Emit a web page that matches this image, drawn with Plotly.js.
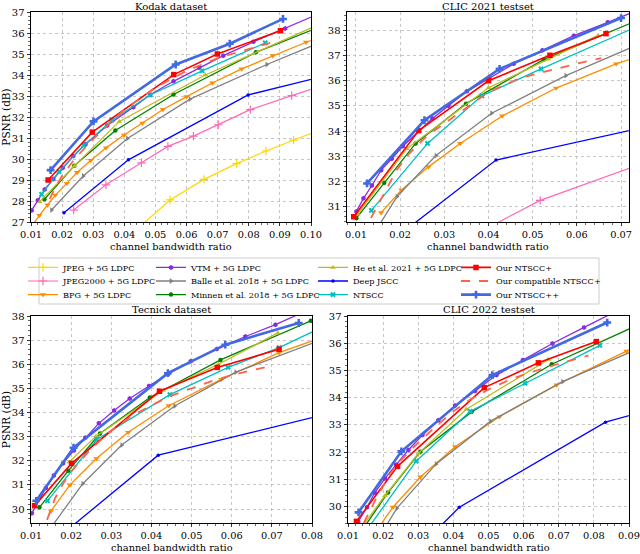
<!DOCTYPE html>
<html><head><meta charset="utf-8">
<script src="https://cdn.plot.ly/plotly-3.0.1.min.js"></script>
<style>html,body{margin:0;padding:0;background:#fff}#chart{width:640px;height:554px}</style>
</head><body><div id="chart"></div><script>
// ---------- series names (legend order, column-major) ----------
const SERIES_KEYS  = ['jpeg','j2k','bpg','vtm','balle','minnen','he','djscc','ntscc','plus','compat','pp'];
const SERIES_NAMES = ['JPEG + 5G LDPC','JPEG2000 + 5G LDPC','BPG + 5G LDPC','VTM + 5G LDPC','Balle et al. 2018 + 5G LDPC','Minnen et al. 2018 + 5G LDPC','He et al. 2021 + 5G LDPC','Deep JSCC','NTSCC','Our NTSCC+','Our compatible NTSCC+','Our NTSCC++'];
const PANEL_TITLES = ['Kodak dataset','CLIC 2021 testset','Tecnick dataset','CLIC 2022 testset'];
const X_TITLE = 'channel bandwidth ratio';
const Y_TITLE = 'PSNR (dB)';

// ---------- Kodak ----------
const kdJpegX = [0.0440,0.0547,0.0656,0.0761,0.0855,0.0944,0.1035];
const kdJpegY = [26.65,28.05,29.03,29.78,30.38,30.90,31.42];
const kdJ2kX = [0.0237,0.0341,0.0455,0.0540,0.0622,0.0702,0.0805,0.0938,0.1035];
const kdJ2kY = [27.57,28.77,29.82,30.60,31.09,31.63,32.35,33.02,33.48];
const kdBpgX = [0.0105,0.0127,0.0153,0.0178,0.0215,0.0248,0.0292,0.0341,0.0399,0.0458,0.0524,0.0600,0.0683,0.0777,0.0877,0.0984,0.1035];
const kdBpgY = [26.85,27.32,27.81,28.28,28.84,29.36,29.93,30.53,31.14,31.71,32.36,32.97,33.62,34.29,34.92,35.56,35.80];
const kdVtmX = [0.0102,0.0122,0.0144,0.0172,0.0202,0.0236,0.0275,0.0345,0.0429,0.0483,0.0558,0.0641,0.0718,0.0815,0.0917,0.1035];
const kdVtmY = [27.55,28.03,28.55,29.05,29.58,30.14,30.70,31.60,32.47,33.06,33.70,34.35,34.92,35.58,36.22,36.98];
const kdBalleX = [0.0166,0.0268,0.0410,0.0611,0.0858,0.1035];
const kdBalleY = [27.57,29.19,30.98,32.85,34.50,35.58];
const kdMinnenX = [0.0143,0.0239,0.0371,0.0558,0.0823,0.1035];
const kdMinnenY = [28.08,29.68,31.36,33.07,35.08,36.33];
const kdHeX = [0.0128,0.0239,0.0384,0.0660,0.1035];
const kdHeY = [27.97,29.66,31.79,34.00,36.47];
const kdDjsccX = [0.0206,0.0413,0.0798,0.1035];
const kdDjsccY = [27.44,29.96,33.05,33.92];
const kdNtsccX = [0.0134,0.0190,0.0270,0.0360,0.0483,0.0650,0.0853];
const kdNtsccY = [28.32,29.40,30.65,31.85,33.05,34.20,35.53];
const kdPlusX = [0.0155,0.0297,0.0559,0.0699,0.0902];
const kdPlusY = [29.00,31.28,34.02,35.00,36.11];
const kdCompatX = [0.0160,0.0180,0.0200,0.0240,0.0300,0.0400,0.0500,0.0600,0.0700,0.0800,0.0880];
const kdCompatY = [28.10,28.70,29.20,30.00,30.95,32.35,33.40,34.20,34.80,35.25,35.58];
const kdPpX = [0.0163,0.0301,0.0565,0.0739,0.0910];
const kdPpY = [29.47,31.79,34.50,35.49,36.67];

// ---------- CLIC 2021 ----------
const c21J2kX = [0.0395,0.0517,0.0750];
const c21J2kY = [30.13,31.25,32.72];
const c21BpgX = [0.0157,0.0203,0.0264,0.0336,0.0431,0.0553,0.0689,0.0740];
const c21BpgY = [30.76,31.66,32.58,33.51,34.60,35.71,36.67,36.97];
const c21VtmX = [0.0101,0.0117,0.0136,0.0157,0.0181,0.0206,0.0273,0.0309,0.0351,0.0402,0.0457,0.0522,0.0593,0.0670,0.0750];
const c21VtmY = [30.81,31.33,31.84,32.45,32.90,33.40,34.50,35.01,35.58,36.10,36.67,37.21,37.79,38.32,38.89];
const c21BalleX = [0.0148,0.0193,0.0281,0.0407,0.0575,0.0740];
const c21BalleY = [30.14,31.40,33.03,34.71,36.20,37.45];
const c21MinnenX = [0.0101,0.0164,0.0235,0.0349,0.0525,0.0740];
const c21MinnenY = [30.54,31.95,33.51,35.09,36.84,38.42];
const c21HeX = [0.0104,0.0215,0.0400,0.0535,0.0648];
const c21HeY = [30.70,33.30,35.72,36.85,37.80];
const c21DjsccX = [0.0206,0.0417,0.0798];
const c21DjsccY = [29.98,32.85,34.33];
const c21NtsccX = [0.0135,0.0262,0.0385,0.0519,0.0740];
const c21NtsccY = [30.85,33.51,35.40,36.47,38.18];
const c21PlusX = [0.0095,0.0242,0.0400,0.0539,0.0666];
const c21PlusY = [30.60,34.02,36.00,37.01,37.87];
const c21CompatX = [0.0134,0.0160,0.0192,0.0220,0.0260,0.0320,0.0400,0.0470,0.0540,0.0600,0.0655];
const c21CompatY = [30.55,31.40,32.45,33.10,33.80,34.55,35.55,36.10,36.42,36.68,36.90];
const c21PpX = [0.0125,0.0255,0.0425,0.0700];
const c21PpY = [31.92,34.43,36.47,38.49];

// ---------- Tecnick ----------
const tnBpgX = [0.0150,0.0197,0.0263,0.0342,0.0443,0.0574,0.0718,0.0820];
const tnBpgY = [29.92,31.00,32.09,33.18,34.28,35.37,36.48,37.08];
const tnVtmX = [0.0102,0.0137,0.0157,0.0180,0.0207,0.0235,0.0269,0.0307,0.0346,0.0394,0.0442,0.0498,0.0563,0.0634,0.0709,0.0790];
const tnVtmY = [29.82,30.87,31.39,31.90,32.43,32.95,33.55,34.08,34.58,35.10,35.60,36.12,36.63,37.15,37.64,38.25];
const tnBalleX = [0.0145,0.0229,0.0326,0.0458,0.0610,0.0820];
const tnBalleY = [29.12,31.05,32.65,34.27,35.67,36.99];
const tnMinnenX = [0.0121,0.0193,0.0272,0.0396,0.0572,0.0797];
const tnMinnenY = [30.07,31.59,33.13,34.62,36.18,37.80];
const tnHeX = [0.0195,0.0262,0.0430,0.0567,0.0715];
const tnHeY = [31.95,33.02,34.92,36.00,37.30];
const tnDjsccX = [0.0206,0.0417,0.0825];
const tnDjsccY = [29.34,32.23,33.89];
const tnNtsccX = [0.0141,0.0264,0.0446,0.0591,0.0718,0.0820];
const tnNtsccY = [30.34,32.88,34.74,35.87,36.69,37.49];
const tnPlusX = [0.0109,0.0201,0.0420,0.0564,0.0718];
const tnPlusY = [30.14,31.89,34.88,35.87,36.62];
const tnCompatX = [0.0140,0.0160,0.0180,0.0200,0.0250,0.0300,0.0350,0.0400,0.0450,0.0500,0.0550,0.0600,0.0650,0.0690];
const tnCompatY = [29.55,30.45,31.05,31.55,32.50,33.25,33.85,34.30,34.70,35.00,35.30,35.55,35.75,35.90];
const tnPpX = [0.0113,0.0206,0.0441,0.0584,0.0767];
const tnPpY = [30.34,32.54,35.63,36.81,37.71];

// ---------- CLIC 2022 ----------
const c22BpgX = [0.0188,0.0228,0.0306,0.0405,0.0531,0.0694,0.0893,0.0925];
const c22BpgY = [29.25,29.98,31.09,32.20,33.30,34.47,35.71,35.91];
const c22VtmX = [0.0129,0.0154,0.0176,0.0205,0.0237,0.0272,0.0312,0.0357,0.0405,0.0462,0.0523,0.0598,0.0682,0.0772,0.0860];
const c22VtmY = [29.45,29.98,30.51,31.03,31.54,32.08,32.63,33.17,33.71,34.25,34.83,35.38,35.99,36.58,37.15];
const c22BalleX = [0.0205,0.0239,0.0351,0.0506,0.0711,0.0925];
const c22BalleY = [29.22,29.94,31.57,33.14,34.59,35.79];
const c22MinnenX = [0.0148,0.0214,0.0306,0.0452,0.0680,0.0935];
const c22MinnenY = [29.28,30.52,32.02,33.48,35.23,36.73];
const c22HeX = [0.0148,0.0205,0.0300,0.0437,0.0670];
const c22HeY = [29.40,30.40,31.95,33.58,35.40];
const c22DjsccX = [0.0355,0.0417,0.0833,0.0925];
const c22DjsccY = [29.18,29.98,33.10,33.43];
const c22NtsccX = [0.0155,0.0294,0.0448,0.0604,0.0817];
const c22NtsccY = [29.17,31.67,33.50,34.53,35.92];
const c22PlusX = [0.0124,0.0241,0.0488,0.0642,0.0807];
const c22PlusY = [29.46,31.48,34.37,35.28,36.06];
const c22CompatX = [0.0145,0.0180,0.0220,0.0250,0.0300,0.0350,0.0400,0.0450,0.0500,0.0550,0.0600,0.0650,0.0700,0.0750,0.0785];
const c22CompatY = [29.40,30.30,31.20,31.70,32.35,32.95,33.50,33.95,34.30,34.60,34.85,35.05,35.25,35.42,35.55];
const c22PpX = [0.0130,0.0252,0.0511,0.0838];
const c22PpY = [29.79,32.03,34.83,36.76];

// ---------- styles ----------
const FONT = 'DejaVu Serif, serif';
const STYLE = {
  jpeg:  {color:'#FFD700', symbol:'cross-thin-open', size:6, width:1.2, legend:'legend'},
  j2k:   {color:'#FF69B4', symbol:'cross-thin-open', size:6, width:1.2, legend:'legend'},
  bpg:   {color:'#FF8C00', symbol:'triangle-down', size:5.5, width:1.3, legend:'legend'},
  vtm:   {color:'#8A2BE2', symbol:'hexagon', size:5, width:1.3, legend:'legend2'},
  balle: {color:'#808080', symbol:'triangle-right', size:5, width:1.3, legend:'legend2'},
  minnen:{color:'#008000', symbol:'circle', size:4.5, width:1.3, legend:'legend2'},
  he:    {color:'#BCBD22', symbol:'triangle-up', size:5, width:1.3, legend:'legend3'},
  djscc: {color:'#0000FF', symbol:'circle', size:3.5, width:1.3, legend:'legend3'},
  ntscc: {color:'#00BFBF', symbol:'x', size:5, width:1.3, legend:'legend3'},
  plus:  {color:'#FF0000', symbol:'square', size:5.5, width:1.6, legend:'legend4'},
  compat:{color:'#FF6347', symbol:null, width:1.8, dash:'dash', legend:'legend4'},
  pp:    {color:'#4169E1', symbol:'cross', size:6.5, width:2.6, legend:'legend4'}
};

const PANELS = [
  {xa:'x',  ya:'y',  legend:true, data:{jpeg:[kdJpegX,kdJpegY], j2k:[kdJ2kX,kdJ2kY], bpg:[kdBpgX,kdBpgY], vtm:[kdVtmX,kdVtmY], balle:[kdBalleX,kdBalleY], minnen:[kdMinnenX,kdMinnenY], he:[kdHeX,kdHeY], djscc:[kdDjsccX,kdDjsccY], ntscc:[kdNtsccX,kdNtsccY], plus:[kdPlusX,kdPlusY], compat:[kdCompatX,kdCompatY], pp:[kdPpX,kdPpY]}},
  {xa:'x2', ya:'y2', legend:false, data:{j2k:[c21J2kX,c21J2kY], bpg:[c21BpgX,c21BpgY], vtm:[c21VtmX,c21VtmY], balle:[c21BalleX,c21BalleY], minnen:[c21MinnenX,c21MinnenY], he:[c21HeX,c21HeY], djscc:[c21DjsccX,c21DjsccY], ntscc:[c21NtsccX,c21NtsccY], plus:[c21PlusX,c21PlusY], compat:[c21CompatX,c21CompatY], pp:[c21PpX,c21PpY]}},
  {xa:'x3', ya:'y3', legend:false, data:{bpg:[tnBpgX,tnBpgY], vtm:[tnVtmX,tnVtmY], balle:[tnBalleX,tnBalleY], minnen:[tnMinnenX,tnMinnenY], he:[tnHeX,tnHeY], djscc:[tnDjsccX,tnDjsccY], ntscc:[tnNtsccX,tnNtsccY], plus:[tnPlusX,tnPlusY], compat:[tnCompatX,tnCompatY], pp:[tnPpX,tnPpY]}},
  {xa:'x4', ya:'y4', legend:false, data:{bpg:[c22BpgX,c22BpgY], vtm:[c22VtmX,c22VtmY], balle:[c22BalleX,c22BalleY], minnen:[c22MinnenX,c22MinnenY], he:[c22HeX,c22HeY], djscc:[c22DjsccX,c22DjsccY], ntscc:[c22NtsccX,c22NtsccY], plus:[c22PlusX,c22PlusY], compat:[c22CompatX,c22CompatY], pp:[c22PpX,c22PpY]}}
];

const traces = [];
PANELS.forEach(p => {
  SERIES_KEYS.forEach((k, i) => {
    const d = p.data[k];
    if (!d) return;
    const s = STYLE[k];
    const t = {
      type:'scatter', x:d[0], y:d[1], xaxis:p.xa, yaxis:p.ya,
      name:SERIES_NAMES[i], legend:s.legend, showlegend:p.legend,
      mode: s.symbol ? 'lines+markers' : 'lines',
      line:{color:s.color, width:s.width, dash:s.dash || 'solid'},
      hoverinfo:'skip'
    };
    if (s.symbol) {
      t.marker = {symbol:s.symbol, size:s.size, color:s.color,
        line:{width: s.symbol.indexOf('open') >= 0 ? 1.2 : 0, color:s.color}};
    }
    traces.push(t);
  });
});

const W = 640, H = 554;
const px = v => v / W, py = v => 1 - v / H;
function xax(domain, range) {
  return {domain, range, tick0:0, dtick:0.01, tickformat:'.2f',
    showline:true, linecolor:'#000', linewidth:1, mirror:true,
    ticks:'outside', ticklen:3, tickwidth:0.8, tickcolor:'#000',
    showgrid:true, gridcolor:'#b8b8b8', griddash:'dot', gridwidth:0.8, zeroline:false,
    minor:{ticks:'outside', ticklen:2, tickwidth:0.6, tickcolor:'#000', dtick:0.002, showgrid:false},
    tickfont:{family:FONT, size:9.8, color:'#000'}};
}
function yax(domain, range, showTitle) {
  const a = {domain, range, dtick:1,
    showline:true, linecolor:'#000', linewidth:1, mirror:true,
    ticks:'outside', ticklen:3.5, tickwidth:0.8, tickcolor:'#000',
    showgrid:true, gridcolor:'#b8b8b8', griddash:'dot', gridwidth:0.8, zeroline:false,
    minor:{ticks:'outside', ticklen:2, tickwidth:0.6, tickcolor:'#000', dtick:0.2, showgrid:false},
    tickfont:{family:FONT, size:10, color:'#000'}};
  if (showTitle) a.title = {text:Y_TITLE, font:{family:FONT, size:10.5, color:'#000'}, standoff:4};
  return a;
}

const legFont = {family:FONT, size:8.2, color:'#000'};
const legBase = {yanchor:'top', xanchor:'left', y:py(247.5), bgcolor:'rgba(0,0,0,0)', borderwidth:0, font:legFont, traceorder:'normal'};

const textAnn = (txt, x, y, anchor, size) => ({text:txt, xref:'paper', yref:'paper', x:px(x), y:py(y), xanchor:'center', yanchor:anchor || 'middle', showarrow:false, borderpad:0, font:{family:FONT, size:size || 10, color:'#000'}});

const layout = {
  width:W, height:H, margin:{l:0, r:0, t:0, b:0},
  paper_bgcolor:'#fff', plot_bgcolor:'#fff',
  xaxis: xax([px(31), px(311)], [0.01, 0.10]),
  yaxis: yax([py(222), py(12)], [27, 37], true),
  xaxis2: Object.assign(xax([px(347), px(629)], [0.00797, 0.0718]), {anchor:'y2'}),
  yaxis2: Object.assign(yax([py(222), py(12)], [30.39, 38.73], false), {anchor:'x2'}),
  xaxis3: Object.assign(xax([px(31), px(312)], [0.01, 0.08]), {anchor:'y3'}),
  yaxis3: Object.assign(yax([py(523), py(316)], [29.42, 38.0], true), {anchor:'x3'}),
  xaxis4: Object.assign(xax([px(348), px(629)], [0.01, 0.09]), {anchor:'y4'}),
  yaxis4: Object.assign(yax([py(523), py(316)], [29.4, 37.0], false), {anchor:'x4'}),
  legend:  Object.assign({}, legBase, {x:px(23)}),
  legend2: Object.assign({}, legBase, {x:px(151)}),
  legend3: Object.assign({}, legBase, {x:px(313)}),
  legend4: Object.assign({}, legBase, {x:px(456)}),
  shapes:[{type:'rect', xref:'paper', yref:'paper', x0:px(39), x1:px(599), y0:py(258), y1:py(304), line:{color:'#cccccc', width:1}, fillcolor:'rgba(0,0,0,0)', layer:'below'}],
  annotations:[
    textAnn(PANEL_TITLES[0], 171, 6),
    textAnn(PANEL_TITLES[1], 488, 6),
    textAnn(PANEL_TITLES[2], 171.5, 309),
    textAnn(PANEL_TITLES[3], 488.5, 309),
    textAnn(X_TITLE, 171, 246, 'middle', 9.8),
    textAnn(X_TITLE, 488, 246, 'middle', 9.8),
    textAnn(X_TITLE, 171.5, 554, 'bottom', 9.8),
    textAnn(X_TITLE, 488.5, 554, 'bottom', 9.8)
  ],
  showlegend:true, hovermode:false
};

Plotly.newPlot('chart', traces, layout, {staticPlot:true, displayModeBar:false}).then(gd => {
  // tighten legend row spacing to match the reference (13.6 px per row)
  gd.querySelectorAll('.infolayer g.groups').forEach(g => {
    g.querySelectorAll('g.traces').forEach((it, i) => {
      const m = /translate\(\s*([-\d.]+)[ ,]+([-\d.]+)\s*\)/.exec(it.getAttribute('transform') || '');
      if (m) it.setAttribute('transform', 'translate(' + m[1] + ',' + (19.9 + i * 13.6) + ')');
    });
  });
});
</script></body></html>
